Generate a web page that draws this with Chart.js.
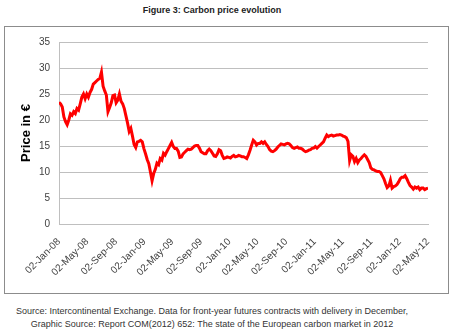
<!DOCTYPE html>
<html><head><meta charset="utf-8">
<script src="https://cdn.jsdelivr.net/npm/chart.js@4"></script>
<style>
html,body{margin:0;padding:0;background:#fff;width:457px;height:336px;overflow:hidden;font-family:'Liberation Sans',Arial,sans-serif;}
#title{position:absolute;left:0;width:424px;top:5px;text-align:center;font-weight:bold;font-size:9px;color:#222;}
#box{position:absolute;left:4px;top:26px;width:445px;height:268px;border:1px solid #8c8c8c;box-sizing:border-box;}
#wrap{position:absolute;left:0;top:0;width:457px;height:300px;}
#foot{position:absolute;left:0;width:424px;top:305px;text-align:center;font-size:9px;line-height:13px;color:#333;}
</style></head>
<body>
<div id="title">Figure 3: Carbon price evolution</div>
<div id="box"></div>
<div id="wrap"><canvas id="c" width="457" height="300"></canvas></div>
<div id="foot">Source: Intercontinental Exchange. Data for front-year futures contracts with delivery in December,<br>Graphic Source: Report COM(2012) 652: The state of the European carbon market in 2012</div>
<script>
// Weekly samples of the front-year EUA futures price (EUR), starting 02-Jan-2008
const startDate = '2008-01-02';
const sampleStepDays = 7;
const prices = [
 23.4,23.1,22.5,20.6,19.7,19.1,20.0,21.2,20.9,21.6,
 21.25,22.2,21.9,23.1,24.4,25.0,24.1,25.0,24.4,25.3,
 25.9,26.9,27.2,27.5,27.8,28.0,29.2,26.5,25.6,24.8,
 21.6,22.4,23.3,24.7,24.8,23.3,23.8,25.0,23.6,23.1,
 22.2,20.8,19.4,17.8,18.4,16.9,15.3,14.7,15.8,15.9,
 16.1,15.8,14.5,13.5,12.4,11.6,10.0,8.3,9.7,10.5,
 11.7,11.4,12.6,12.3,13.6,13.25,13.9,14.5,15.1,15.7,
 14.9,14.5,14.5,14.0,12.8,12.9,13.5,13.8,14.1,14.4,
 14.3,14.4,14.7,15.0,15.1,15.1,14.6,13.9,13.7,13.5,
 13.5,14.1,14.4,14.1,13.6,13.1,13.0,13.5,14.3,14.1,
 13.2,12.6,12.7,12.9,12.8,12.7,13.0,13.2,12.9,13.0,
 13.2,13.1,12.95,12.95,12.8,12.6,13.3,14.2,15.2,16.1,
 15.8,15.2,15.5,15.5,15.8,15.5,15.8,15.3,14.9,14.3,
 14.0,13.9,14.1,14.4,14.8,15.1,15.4,15.3,15.2,15.4,
 15.5,15.4,15.1,14.7,14.55,14.7,14.8,14.55,14.55,14.4,
 14.1,13.9,14.0,14.2,14.3,14.55,14.6,14.9,14.6,14.9,
 15.2,15.5,15.8,16.5,17.1,16.8,17.0,17.1,16.9,17.0,
 17.1,17.1,17.2,17.1,16.9,16.8,16.6,15.9,12.2,13.3,
 13.0,12.0,12.6,11.8,12.3,12.6,13.0,13.3,13.0,12.4,
 11.8,10.8,10.5,10.4,10.2,10.1,10.1,9.9,9.3,8.7,
 7.8,7.0,7.3,8.4,6.9,7.2,7.3,7.6,8.1,8.7,
 9.0,9.0,9.3,8.7,8.0,7.4,7.1,6.7,7.1,6.9,
 7.1,6.6,6.9,6.9,6.6,6.8,6.9
];
const tickDates = ['2008-01-02','2008-05-02','2008-09-02','2009-01-02','2009-05-02','2009-09-02','2010-01-02','2010-05-02','2010-09-02','2011-01-02','2011-05-02','2011-09-02','2012-01-02','2012-05-02'];
const tickLabels = ['02-Jan-08','02-May-08','02-Sep-08','02-Jan-09','02-May-09','02-Sep-09','02-Jan-10','02-May-10','02-Sep-10','02-Jan-11','02-May-11','02-Sep-11','02-Jan-12','02-May-12'];
const yTicks = [0,5,10,15,20,25,30,35];

const dayOffset = d => Math.round((Date.parse(d) - Date.parse(startDate)) / 86400000);
const points = prices.map((v, i) => ({x: i * sampleStepDays, y: v}));
const axisFont = {family: "'Liberation Sans', Arial, sans-serif", size: 10};

new Chart(document.getElementById('c'), {
  type: 'line',
  data: {datasets: [{data: points, borderColor: '#ff0000', borderWidth: 3, pointRadius: 0, tension: 0, fill: false}]},
  options: {
    responsive: false, animation: false,
    layout: {padding: {left: 0, right: 29, top: 42, bottom: 0}},
    plugins: {legend: {display: false}, tooltip: {enabled: false}},
    scales: {
      x: {
        type: 'linear', min: dayOffset(tickDates[0]), max: dayOffset(tickDates[tickDates.length - 1]),
        grid: {display: false},
        border: {display: true, color: '#bfbfbf'},
        afterBuildTicks: s => { s.ticks = tickDates.map(d => ({value: dayOffset(d)})); },
        afterFit: s => { s.height = 76; },
        ticks: {autoSkip: false, minRotation: 45, maxRotation: 45, padding: 4, color: '#404040', font: axisFont,
          callback: (v, i) => tickLabels[i]}
      },
      y: {
        min: yTicks[0], max: yTicks[yTicks.length - 1],
        afterBuildTicks: s => { s.ticks = yTicks.map(v => ({value: v})); },
        ticks: {padding: 9, color: '#404040', font: axisFont},
        grid: {color: '#bfbfbf', drawTicks: false},
        border: {color: '#bfbfbf'},
        title: {display: true, text: 'Price in €', color: '#000',
          font: {family: "'Liberation Sans', Arial, sans-serif", size: 13, weight: 'bold'},
          padding: {top: 19, bottom: 0}},
        afterFit: s => { s.width = 59; }
      }
    }
  }
});
</script>
</body></html>
